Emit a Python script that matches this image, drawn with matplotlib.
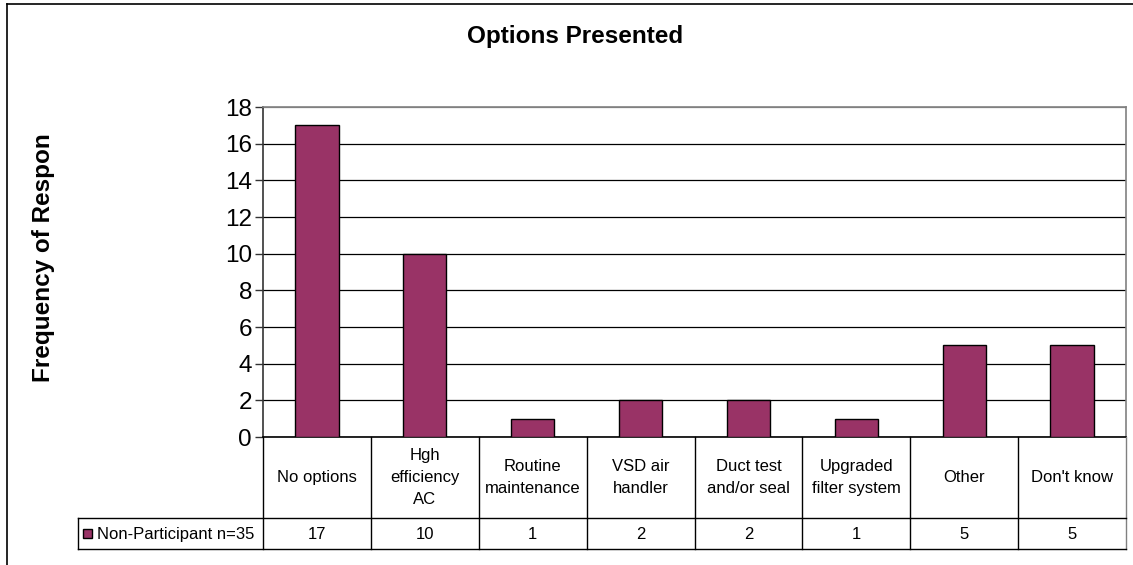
import matplotlib
matplotlib.use("Agg")
import matplotlib.pyplot as plt
from matplotlib.patches import Rectangle

plt.rcParams['font.family'] = ['Liberation Sans', 'DejaVu Sans']

categories = ["No options", "Hgh\nefficiency\nAC", "Routine\nmaintenance",
              "VSD air\nhandler", "Duct test\nand/or seal", "Upgraded\nfilter system",
              "Other", "Don't know"]
values = [17, 10, 1, 2, 2, 1, 5, 5]
series_name = "Non-Participant n=35"
yticks = [0, 2, 4, 6, 8, 10, 12, 14, 16, 18]

bar_color = "#993366"
W, H = 1133, 565
fig = plt.figure(figsize=(W / 100, H / 100), dpi=100)

# outer chart frame (left and top edges visible)
fig.add_artist(plt.Line2D([7 / W, 7 / W], [0, 1 - 4 / H], color="black", lw=1.2))
fig.add_artist(plt.Line2D([7 / W, 1], [1 - 4 / H, 1 - 4 / H], color="black", lw=1.2))

# plot area in pixel units
px_left, px_right, px_top, px_bottom = 263, 1126, 107, 437
ax = fig.add_axes([px_left / W, 1 - px_bottom / H,
                   (px_right - px_left) / W, (px_bottom - px_top) / H])
n = len(categories)
x = list(range(n))
ax.bar(x, values, width=0.4, color=bar_color, edgecolor="black", linewidth=1.0, zorder=3)
ax.set_xlim(-0.5, n - 0.5)
ax.set_ylim(0, 18)
ax.set_yticks(yticks)
ax.set_yticklabels([str(t) for t in yticks], fontsize=17.5)
ax.tick_params(axis="y", direction="out", length=6, width=1, color="#333333", pad=2)
ax.set_xticks([])
ax.yaxis.grid(True, color="black", linewidth=0.9, zorder=0)
for s in ("top", "right"):
    ax.spines[s].set_color("#808080")
    ax.spines[s].set_linewidth(1.2)
ax.spines["left"].set_color("#333333")
ax.spines["bottom"].set_color("black")
ax.spines["left"].set_linewidth(1.2)
ax.spines["bottom"].set_linewidth(1.2)
for g in ax.get_ygridlines()[-1:]:
    g.set_color("#808080")

# data table below the plot
tbl_left, tbl_split, tbl_bottom = 78, 518, 549
cat_w = (px_right - px_left) / n
legend_units = (px_left - tbl_left) / cat_w
tax = fig.add_axes([tbl_left / W, 1 - tbl_bottom / H,
                    (px_right - tbl_left) / W, (tbl_bottom - px_bottom) / H])
tax.set_xlim(-0.5 - legend_units, n - 0.5)
tax.set_ylim(tbl_bottom - px_bottom, 0)
tax.axis("off")
row_split = tbl_split - px_bottom
row_bottom = tbl_bottom - px_bottom
lc = "black"
lw = 1.0
# vertical lines between categories
for i in range(n + 1):
    col = "#808080" if i == n else lc
    tax.plot([i - 0.5, i - 0.5], [0, row_bottom], color=col, lw=lw, clip_on=False)
# horizontal lines
tax.plot([-0.5 - legend_units, n - 0.5], [row_split, row_split], color=lc, lw=lw, clip_on=False)
tax.plot([-0.5 - legend_units, n - 0.5], [row_bottom, row_bottom], color=lc, lw=lw, clip_on=False)
tax.plot([-0.5 - legend_units, -0.5 - legend_units], [row_split, row_bottom], color=lc, lw=lw, clip_on=False)

cell_fs = 12
for i, (c, v) in enumerate(zip(categories, values)):
    tax.text(i, row_split / 2, c, ha="center", va="center", fontsize=cell_fs, linespacing=1.55)
    tax.text(i, (row_split + row_bottom) / 2 + 1, str(v), ha="center", va="center", fontsize=cell_fs)

# legend key inside the table
kx = -0.5 - legend_units + 0.045
tax.add_patch(Rectangle((kx, (row_split + row_bottom) / 2 - 4.5), 0.085, 9,
                        facecolor=bar_color, edgecolor="black", lw=1.0, clip_on=False))
tax.text(kx + 0.13, (row_split + row_bottom) / 2 + 1, series_name, ha="left", va="center",
         fontsize=cell_fs)

fig.text(575 / W, 1 - 37 / H, "Options Presented", ha="center", va="center",
         fontsize=17.5, fontweight="bold")
fig.text(44 / W, 1 - 258 / H, "Frequency of Respon", ha="center", va="center",
         rotation=90, fontsize=17.5, fontweight="bold")

fig.savefig("out.png", dpi=100)
